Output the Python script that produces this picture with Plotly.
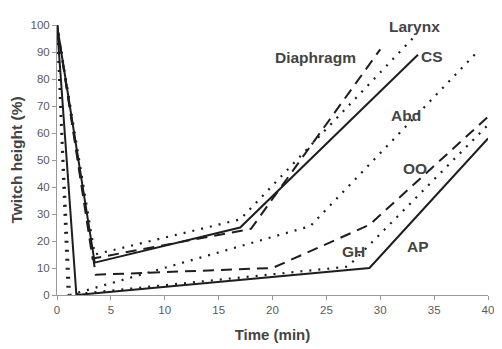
import plotly.graph_objects as go

# Series (time in min, twitch height in %)
cs_x = [0, 3.5, 17, 33.5]
cs_y = [100, 12, 25, 89]

diaphragm_x = [0, 3.3, 18, 30]
diaphragm_y = [100, 13.5, 24.5, 91]

larynx_x = [0, 3.5, 17, 33]
larynx_y = [100, 15, 28, 95]

abd_x = [0, 1.2, 23.5, 39]
abd_y = [100, 0, 25.5, 90]

oo_x = [0, 3.6, 20, 29, 40]
oo_y = [100, 7.5, 10, 26, 66]

gh_x = [0, 1.0, 27, 40]
gh_y = [100, 0, 10.5, 63]

ap_x = [0, 1.8, 29, 40]
ap_y = [100, 0, 10, 58]

x_ticks = [0, 5, 10, 15, 20, 25, 30, 35, 40]
y_ticks = [0, 10, 20, 30, 40, 50, 60, 70, 80, 90, 100]

labels = ["Larynx", "Diaphragm", "CS", "Abd", "OO", "GH", "AP"]
label_x = [33.2, 24.0, 34.8, 32.4, 33.2, 27.5, 33.5]
label_y = [99.3, 88.1, 88.5, 66.3, 46.7, 16.0, 17.8]

INK = "#1e1e1e"
SOLID = dict(color=INK, width=2)
DASH = dict(color=INK, width=2, dash="11px,7px")
DOT = dict(color=INK, width=2.2, dash="2px,7px")
FONT = "Liberation Sans, Arial"

fig = go.Figure()
series = [
    (cs_x, cs_y, SOLID),
    (diaphragm_x, diaphragm_y, DASH),
    (larynx_x, larynx_y, DOT),
    (abd_x, abd_y, DOT),
    (oo_x, oo_y, DASH),
    (gh_x, gh_y, DOT),
    (ap_x, ap_y, SOLID),
]
for xs, ys, ln in series:
    fig.add_trace(go.Scatter(x=xs, y=ys, mode="lines", line=ln,
                             showlegend=False, hoverinfo="skip", cliponaxis=False))

for t, xv, yv in zip(labels, label_x, label_y):
    fig.add_annotation(x=xv, y=yv, text="<b>" + t + "</b>", showarrow=False,
                       font=dict(family=FONT, size=15.5, color="#444444"),
                       xanchor="center", yanchor="middle")

axis_common = dict(
    showgrid=False, zeroline=False, showline=True, linecolor="#9a9a9a", linewidth=1,
    ticks="outside", ticklen=4, tickcolor="#9a9a9a", automargin=False,
    tickfont=dict(family=FONT, size=11.5, color="#5a5a5a"),
)

# the page body has an 8px default margin, so the plot area is shifted accordingly
fig.update_layout(
    width=502, height=349,
    margin=dict(l=49, r=22, t=17, b=62),
    paper_bgcolor="white", plot_bgcolor="white",
    xaxis=dict(range=[0, 40], tickvals=x_ticks, **axis_common,
               title=dict(text="<b>Time (min)</b>", standoff=14,
                          font=dict(family=FONT, size=15, color="#444444"))),
    yaxis=dict(range=[0, 100], tickvals=y_ticks, **axis_common,
               title=dict(text="<b>Twitch height (%)</b>", standoff=9,
                          font=dict(family=FONT, size=15.5, color="#444444"))),
)

fig.write_html("out.html")
